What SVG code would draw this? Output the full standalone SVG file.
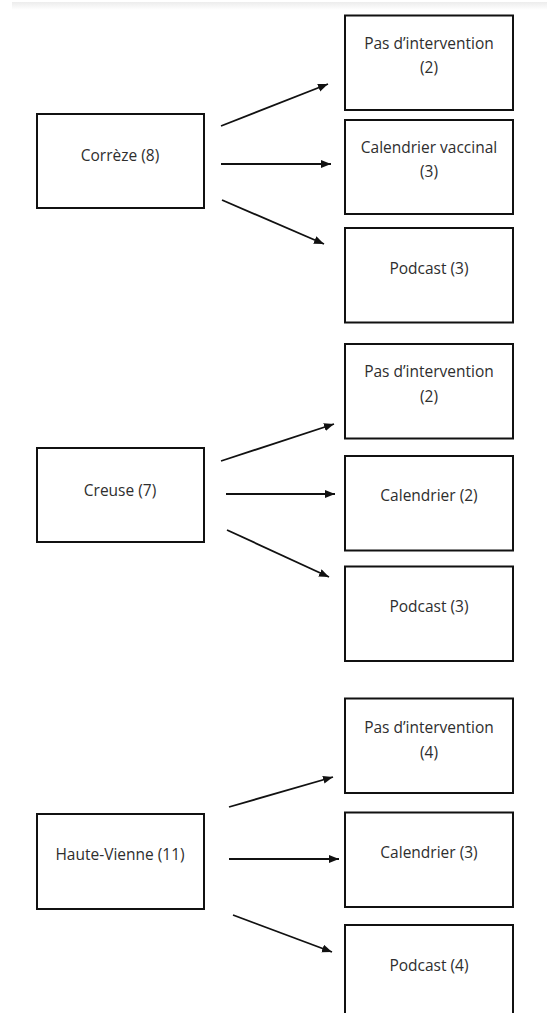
<svg xmlns="http://www.w3.org/2000/svg" width="547" height="1013" viewBox="0 0 547 1013">
<style>
.box{fill:#fff;stroke:#111;stroke-width:2}
.t{font-family:"Open Sans","Liberation Sans",sans-serif;font-size:15.5px;fill:#2e2e2e;text-anchor:middle}
.c{stroke:#111;stroke-width:1.8;fill:none;marker-end:url(#ah)}
</style>
<defs>
<marker id="ah" markerUnits="userSpaceOnUse" markerWidth="11" markerHeight="9" refX="10" refY="4" orient="auto">
<path d="M0,0 L10,4 L0,8 z" fill="#111"/>
</marker>
<linearGradient id="band" x1="0" y1="0" x2="0" y2="1">
<stop offset="0" stop-color="#ececec"/>
<stop offset="1" stop-color="#ffffff"/>
</linearGradient>
</defs>
<rect x="0" y="0" width="547" height="1013" fill="#fff"/>
<rect x="12" y="2" width="535" height="8" fill="url(#band)"/>

<g id="correze"><rect class="box" x="37" y="114" width="167" height="94"/><text class="t" x="120" y="160.5">Corrèze (8)</text></g>
<g id="correze-pas"><rect class="box" x="345" y="15.5" width="168" height="94.5"/><text class="t" x="429" y="48.5">Pas d’intervention</text><text class="t" x="429" y="73">(2)</text></g>
<g id="correze-cal"><rect class="box" x="345" y="120" width="168" height="94"/><text class="t" x="429" y="152.5">Calendrier vaccinal</text><text class="t" x="429" y="177">(3)</text></g>
<g id="correze-pod"><rect class="box" x="345" y="228" width="168" height="94.5"/><text class="t" x="429" y="274">Podcast (3)</text></g>

<g id="creuse"><rect class="box" x="37" y="448" width="167" height="94"/><text class="t" x="120" y="495.5">Creuse (7)</text></g>
<g id="creuse-pas"><rect class="box" x="345" y="344" width="168" height="94.5"/><text class="t" x="429" y="377">Pas d’intervention</text><text class="t" x="429" y="401.5">(2)</text></g>
<g id="creuse-cal"><rect class="box" x="345" y="456" width="168" height="94.5"/><text class="t" x="429" y="501">Calendrier (2)</text></g>
<g id="creuse-pod"><rect class="box" x="345" y="566.5" width="168" height="94.5"/><text class="t" x="429" y="611.5">Podcast (3)</text></g>

<g id="hv"><rect class="box" x="37" y="814" width="167" height="95"/><text class="t" x="120" y="859.5">Haute-Vienne (11)</text></g>
<g id="hv-pas"><rect class="box" x="345" y="698.5" width="168" height="94.5"/><text class="t" x="429" y="733">Pas d’intervention</text><text class="t" x="429" y="757.5">(4)</text></g>
<g id="hv-cal"><rect class="box" x="345" y="812.5" width="168" height="94.5"/><text class="t" x="429" y="857.5">Calendrier (3)</text></g>
<g id="hv-pod"><rect class="box" x="345" y="925" width="168" height="100"/><text class="t" x="429" y="971">Podcast (4)</text></g>

<g id="connectors">
<line class="c" x1="221" y1="126" x2="328" y2="84"/>
<line class="c" x1="221" y1="164" x2="331" y2="164"/>
<line class="c" x1="222" y1="200" x2="324" y2="244"/>
<line class="c" x1="221" y1="461" x2="334" y2="424"/>
<line class="c" x1="226" y1="494" x2="335" y2="494"/>
<line class="c" x1="227" y1="530" x2="329" y2="577"/>
<line class="c" x1="229" y1="807" x2="333" y2="777"/>
<line class="c" x1="229" y1="859" x2="339" y2="859"/>
<line class="c" x1="233" y1="915" x2="332" y2="952"/>
</g>
</svg>
